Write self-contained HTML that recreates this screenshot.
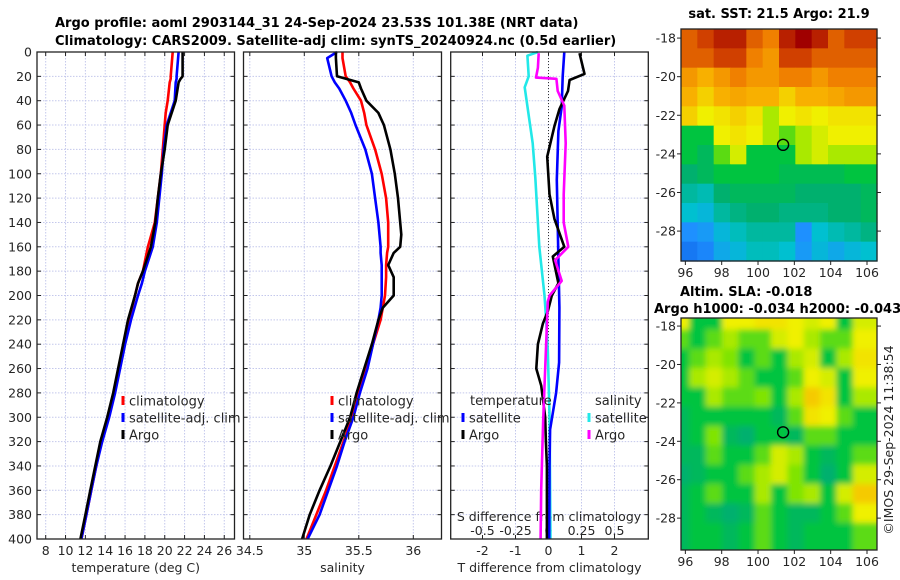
<!DOCTYPE html>
<html><head><meta charset="utf-8"><style>
body{margin:0;background:#fff}
svg{display:block;font-family:"DejaVu Sans","Liberation Sans",sans-serif}
.tk{font-size:12.5px;fill:#262626}
.tt{font-size:13px;font-weight:bold;fill:#000}
</style></head><body>
<svg id="c" width="900" height="580" viewBox="0 0 900 580" xmlns="http://www.w3.org/2000/svg">
<defs>
<filter id="blur" x="0" y="0" width="1" height="1"><feGaussianBlur stdDeviation="3"/></filter>
<clipPath id="clipSLA"><rect x="681" y="318" width="196" height="232"/></clipPath>
</defs>
<text class="tt" x="55" y="27">Argo profile: aoml 2903144_31 24-Sep-2024 23.53S 101.38E (NRT data)</text>
<text class="tt" x="55" y="45">Climatology: CARS2009. Satellite-adj clim: synTS_20240924.nc (0.5d earlier)</text>
<text class="tt" x="779" y="18" text-anchor="middle">sat. SST: 21.5 Argo: 21.9</text>
<text class="tt" x="680" y="296">Altim. SLA: -0.018</text>
<text class="tt" x="654" y="313">Argo h1000: -0.034 h2000: -0.043</text>
<text class="tk" transform="translate(893,440) rotate(-90)" text-anchor="middle">©IMOS 29-Sep-2024 11:38:54</text>
</svg>
<script>
// ---- profile data ----
const depthsT=[0,20,22,25,40,50,60,80,100,120,140,160,180,190,200,220,240,260,280,300,320,340,360,380,400];
const argoT=[21.8,21.8,21.6,21.4,21.1,20.7,20.3,20.0,19.6,19.3,19.05,18.6,17.8,17.3,17.0,16.3,15.8,15.3,14.8,14.2,13.5,13.0,12.5,12.0,11.5];
const climT=[20.8,20.6,20.6,20.5,20.3,20.1,20.0,19.8,19.6,19.3,19.0,18.3,17.8,17.3,17.0,16.4,15.9,15.4,14.9,14.3,13.6,13.1,12.6,12.1,11.6];
const satT=[21.4,21.2,21.2,21.1,21.0,20.6,20.2,19.9,19.7,19.45,19.2,18.8,18.0,17.7,17.3,16.6,16.0,15.5,15.0,14.4,13.7,13.1,12.6,12.1,11.6];
const depthsS=[0,5,20,25,30,40,50,60,80,100,120,140,150,160,165,175,185,200,210,220,240,260,280,300,320,340,360,380,400];
const argoS=[35.29,35.29,35.30,35.50,35.52,35.57,35.68,35.73,35.79,35.83,35.86,35.88,35.89,35.88,35.82,35.77,35.82,35.82,35.72,35.68,35.62,35.55,35.48,35.42,35.33,35.24,35.14,35.05,34.98];
const climS=[35.35,35.35,35.38,35.42,35.45,35.52,35.55,35.57,35.65,35.71,35.75,35.77,35.77,35.77,35.76,35.75,35.75,35.74,35.72,35.70,35.63,35.57,35.50,35.44,35.36,35.28,35.20,35.11,35.02];
const satS=[35.30,35.21,35.25,35.28,35.32,35.38,35.43,35.47,35.56,35.62,35.65,35.68,35.69,35.70,35.70,35.71,35.71,35.71,35.70,35.68,35.63,35.58,35.51,35.45,35.37,35.30,35.22,35.14,35.03];
const dSatTDepth=[0,20,45,65,105,170,210,255,280,310,340,400];
const dSatT=[0.48,0.43,0.4,0.3,0.25,0.3,0.33,0.32,0.23,0.05,0.03,0.02];
const dArgoTDepth=[1,18,23,32,47,61,86,117,137,160,168,190,200,213,223,240,260,274,300,320,340,400];
const dArgoT=[0.94,1.09,0.64,0.59,0.33,0.18,-0.04,0.03,0.18,0.48,0.13,0.3,0.1,-0.02,-0.17,-0.32,-0.37,-0.22,-0.1,-0.08,-0.05,-0.05];
const dSatSDepth=[0,3,20,29,75,103,160,200,217,245,302,400];
const dSatS=[-0.08,-0.16,-0.15,-0.18,-0.12,-0.10,-0.07,-0.03,-0.02,-0.005,0.008,0.015];
const dArgoSDepth=[1,13,21,22,32,44,75,117,140,160,171,188,200,205,245,302,359,400];
const dArgoS=[-0.074,-0.08,-0.095,0.06,0.07,0.12,0.13,0.115,0.115,0.15,0.05,0.1,0.008,-0.005,-0.02,-0.04,-0.055,-0.06];
const depthTicks=[0,20,40,60,80,100,120,140,160,180,200,220,240,260,280,300,320,340,360,380,400];
const tempTicks=[8,10,12,14,16,18,20,22,24,26];
const salTicks=[34.5,35,35.5,36];
const tdTicks=[-2,-1,0,1,2];
const sdTicks=[-0.5,-0.25,0,0.25,0.5];
const sdTickLabels=["-0.5","-0.25","0","0.25","0.5"];
// ---- map data (colour index 0..1) ----
const sstGrid=[
[0.85,0.9,0.95,0.95,0.85,0.8,0.95,1,0.95,0.85,0.9,0.9],
[0.85,0.85,0.9,0.9,0.8,0.75,0.9,0.9,0.85,0.85,0.85,0.85],
[0.75,0.7,0.75,0.8,0.75,0.75,0.8,0.8,0.75,0.8,0.8,0.8],
[0.7,0.65,0.7,0.72,0.7,0.7,0.65,0.7,0.7,0.72,0.75,0.75],
[0.65,0.6,0.62,0.65,0.62,0.55,0.6,0.62,0.6,0.62,0.62,0.62],
[0.45,0.45,0.6,0.62,0.6,0.55,0.5,0.55,0.58,0.6,0.6,0.6],
[0.45,0.42,0.5,0.58,0.45,0.45,0.45,0.55,0.58,0.55,0.55,0.55],
[0.4,0.42,0.45,0.45,0.45,0.45,0.43,0.43,0.43,0.43,0.45,0.45],
[0.35,0.33,0.4,0.42,0.42,0.42,0.42,0.4,0.4,0.4,0.4,0.42],
[0.3,0.28,0.35,0.38,0.4,0.4,0.38,0.38,0.38,0.4,0.4,0.42],
[0.2,0.22,0.28,0.32,0.35,0.35,0.35,0.2,0.3,0.33,0.35,0.38],
[0.15,0.18,0.25,0.28,0.32,0.32,0.3,0.22,0.28,0.25,0.28,0.3]];
const slaGrid=[
[0.6,0.45,0.45,0.6,0.6,0.62,0.62,0.6,0.58,0.6,0.45,0.58],
[0.5,0.45,0.5,0.55,0.5,0.5,0.58,0.6,0.55,0.5,0.5,0.6],
[0.45,0.5,0.55,0.52,0.45,0.5,0.45,0.55,0.58,0.45,0.55,0.62],
[0.45,0.55,0.58,0.55,0.5,0.45,0.45,0.5,0.6,0.58,0.45,0.6],
[0.45,0.45,0.55,0.5,0.5,0.52,0.45,0.55,0.66,0.62,0.45,0.55],
[0.42,0.45,0.45,0.45,0.45,0.45,0.42,0.5,0.62,0.6,0.5,0.45],
[0.42,0.45,0.52,0.42,0.4,0.45,0.45,0.42,0.5,0.5,0.45,0.45],
[0.42,0.42,0.5,0.45,0.45,0.5,0.58,0.55,0.45,0.42,0.45,0.5],
[0.4,0.42,0.45,0.45,0.5,0.55,0.58,0.52,0.45,0.4,0.45,0.58],
[0.42,0.45,0.5,0.45,0.45,0.55,0.45,0.52,0.55,0.45,0.58,0.66],
[0.42,0.45,0.42,0.4,0.42,0.5,0.45,0.42,0.42,0.45,0.5,0.6],
[0.42,0.45,0.45,0.42,0.45,0.5,0.45,0.42,0.45,0.45,0.45,0.5]];
const lonTicks=[96,98,100,102,104,106];
const latTicks=[-18,-20,-22,-24,-26,-28];
const argoLon=101.38, argoLat=-23.53;

const svg=document.getElementById('c');
const NS='http://www.w3.org/2000/svg';
function mk(tag,attrs,parent){const e=document.createElementNS(NS,tag);for(const k in attrs)e.setAttribute(k,attrs[k]);(parent||svg).appendChild(e);return e;}
const yD=d=>52+d*1.2175;
const panels=[
 {x0:37,x1:234.5,x:v=>45.7+(v-8)*9.92,ticks:tempTicks,labels:tempTicks.map(String),title:'temperature (deg C)',name:'temperature'},
 {x0:243.5,x1:441.5,x:v=>304.3+(v-35)*109,ticks:salTicks,labels:salTicks.map(String),title:'salinity',name:'salinity'},
 {x0:450.7,x1:648.3,x:v=>548.5+v*33,ticks:tdTicks,labels:tdTicks.map(String),title:'T difference from climatology',name:'difference'}
];
const xSd=v=>548.5+v*132;
panels.forEach((p,pi)=>{
 const g=mk('g',{});
 
 
 const allX=p.ticks.map(p.x).concat(pi===2?sdTicks.map(xSd):[]);
 allX.forEach(x=>{const l=mk('line',{x1:x,x2:x,y1:52,y2:539,stroke:'#c4c8ec','stroke-width':1,'stroke-dasharray':'1.5,1.5'},g);});
 depthTicks.forEach(d=>{const l=mk('line',{x1:p.x0,x2:p.x1,y1:yD(d),y2:yD(d),stroke:'#c4c8ec','stroke-width':1,'stroke-dasharray':'1.5,1.5'},g);
  mk('line',{x1:p.x0,x2:p.x0+4,y1:yD(d),y2:yD(d),stroke:'#222'},g);mk('line',{x1:p.x1-4,x2:p.x1,y1:yD(d),y2:yD(d),stroke:'#222'},g);
  if(pi===0){const t=mk('text',{x:32,y:yD(d)+4.5,'text-anchor':'end',class:'tk'},g);t.textContent=d;}
 });
 p.ticks.forEach((v,i)=>{const x=p.x(v);mk('line',{x1:x,x2:x,y1:535,y2:539,stroke:'#222'},g);mk('line',{x1:x,x2:x,y1:52,y2:56,stroke:'#222'},g);
  const t=mk('text',{x:x,y:555,'text-anchor':'middle',class:'tk'},g);t.textContent=p.labels[i];});
 const tt=mk('text',{x:(p.x0+p.x1)/2,y:572,'text-anchor':'middle',class:'tk'},g);tt.textContent=p.title;
 
 
});
const sdT=mk('text',{x:549,y:521,'text-anchor':'middle',class:'tk'});sdT.textContent='S difference from climatology';


sdTicks.forEach((v,i)=>{const t=mk('text',{x:xSd(v),y:535,'text-anchor':'middle',class:'tk'});t.textContent=sdTickLabels[i];
 
 });
mk('line',{x1:548.5,x2:548.5,y1:52,y2:539,stroke:'#333','stroke-dasharray':'1,2'});
function series(depths,vals,xf,color,name,w){const pts=depths.map((d,i)=>xf(vals[i]).toFixed(1)+','+yD(d).toFixed(1)).join(' ');
 const pl=mk('polyline',{points:pts,fill:'none',stroke:color,'stroke-width':w||2.6,'stroke-linejoin':'round'});
 
 }
series(depthsT,climT,panels[0].x,'#ff0000','temp-climatology-line');
series(depthsT,satT,panels[0].x,'#0000ff','temp-satellite-line');
series(depthsT,argoT,panels[0].x,'#000','temp-argo-line');
series(depthsS,climS,panels[1].x,'#ff0000','salinity-climatology-line');
series(depthsS,satS,panels[1].x,'#0000ff','salinity-satellite-line');
series(depthsS,argoS,panels[1].x,'#000','salinity-argo-line');
series(dSatSDepth,dSatS,xSd,'#22e8e8','s-diff-satellite-line');
series(dSatTDepth,dSatT,panels[2].x,'#0000ff','t-diff-satellite-line');
series(dArgoTDepth,dArgoT,panels[2].x,'#000','t-diff-argo-line');
series(dArgoSDepth,dArgoS,xSd,'#ff00ff','s-diff-argo-line');
panels.forEach(p=>{const r=mk('rect',{x:p.x0,y:52,width:p.x1-p.x0,height:487,fill:'none',stroke:'#222','stroke-width':1.3});});
function legend(x,y,color,label){const g=mk('g',{});
 
 
 mk('line',{x1:x,x2:x,y1:y-5,y2:y+4,stroke:color,'stroke-width':3},g);
 const t=mk('text',{x:x+6,y:y+4.5,class:'tk',style:'font-size:13px'},g);t.textContent=label;}
[['#ff0000','climatology'],['#0000ff','satellite-adj. clim'],['#000','Argo']].forEach((e,i)=>{legend(123,401+i*17,e[0],e[1]);legend(332,401+i*17,e[0],e[1]);});
const lt=mk('text',{x:470,y:405,class:'tk',style:'font-size:13px'});lt.textContent='temperature';
const ls=mk('text',{x:595,y:405,class:'tk',style:'font-size:13px'});ls.textContent='salinity';
legend(463,418,'#0000ff','satellite');legend(463,435,'#000','Argo');
legend(589,418,'#22e8e8','satellite');legend(589,435,'#ff00ff','Argo');
// ---- maps ----
const stops=[[0,[0,48,208]],[0.2,[30,144,255]],[0.3,[0,192,208]],[0.4,[0,176,110]],[0.45,[0,196,64]],[0.52,[128,228,0]],[0.6,[240,240,0]],[0.7,[248,176,0]],[0.8,[240,128,0]],[0.9,[208,64,0]],[1,[160,0,0]]];
function cmap(v){for(let i=1;i<stops.length;i++){if(v<=stops[i][0]){const a=stops[i-1],b=stops[i],t=(v-a[0])/(b[0]-a[0]);return 'rgb('+a[1].map((c,k)=>Math.round(c+(b[1][k]-c)*t)).join(',')+')';}}return 'rgb(160,0,0)';}
function map(grid,top,name,blur){const x0=681,w=196,h=232;
 const lonL=95.76,lonR=106.55,latT=top.latT,latB=top.latB;
 const lx=lon=>x0+(lon-lonL)/(lonR-lonL)*w, ly=lat=>top.y+(latT-lat)/(latT-latB)*h;
 const g=mk('g',blur?{'clip-path':'url(#clipSLA)'}:{});
 
 
 const gi=mk('g',blur?{filter:'url(#blur)'}:{},g);
 const R=grid.length,C=grid[0].length;
 grid.forEach((row,r)=>row.forEach((v,c)=>{const cell=mk('rect',{x:x0+c*w/C-(blur?8:0),y:top.y+r*h/R-(blur?8:0),width:w/C+0.6+(blur&&(c==C-1||c==0)?16:0),height:h/R+0.6+(blur&&(r==R-1||r==0)?16:0),fill:cmap(v)},gi);
  
  }));
 const ci=mk('circle',{cx:lx(argoLon),cy:ly(argoLat),r:5.5,fill:'none',stroke:'#000','stroke-width':1.4});
 
 
 mk('rect',{x:x0,y:top.y,width:w,height:h,fill:'none',stroke:'#222','stroke-width':1.3});
 lonTicks.forEach(v=>{const x=lx(v);mk('line',{x1:x,x2:x,y1:top.y+h,y2:top.y+h+4,stroke:'#222'});
  const t=mk('text',{x:x,y:top.y+h+16,'text-anchor':'middle',class:'tk'});t.textContent=v;});
 latTicks.forEach(v=>{const y=ly(v);mk('line',{x1:x0-4,x2:x0,y1:y,y2:y,stroke:'#222'});mk('line',{x1:x0+w,x2:x0+w+4,y1:y,y2:y,stroke:'#222'});
  const t=mk('text',{x:x0-5,y:y+4.5,'text-anchor':'end',class:'tk'});t.textContent=v;});
}
map(sstGrid,{y:29,latT:-17.53,latB:-29.55},'sst',false);
map(slaGrid,{y:318,latT:-17.58,latB:-29.66},'sla',true);
</script>
</body></html>
